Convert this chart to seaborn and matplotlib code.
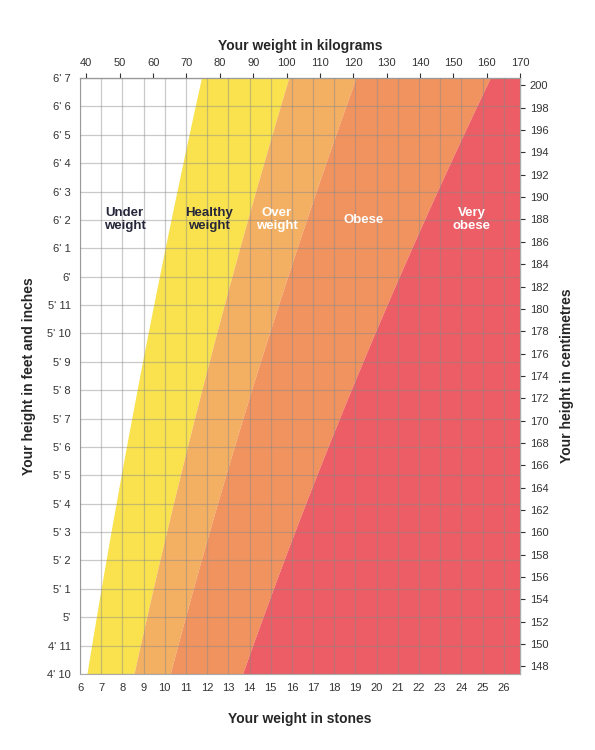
import numpy as np
import matplotlib
matplotlib.use("Agg")
import matplotlib.pyplot as plt
import seaborn as sns

# BMI band boundaries and styling
bmi_edges = [18.5, 25, 30, 40, 100]
band_colors = ["#F9E24E", "#F3B062", "#F0935F", "#EC5D65"]
band_labels = ["Under\nweight", "Healthy\nweight", "Over\nweight", "Obese", "Very\nobese"]
label_x_stones = [8.1, 12.1, 15.3, 19.4, 24.5]
label_colors = ["#26263a", "#26263a", "white", "white", "white"]

stones = list(range(6, 27))
kg_ticks = list(range(40, 171, 10))
cm_ticks = list(range(148, 201, 2))
height_in = list(range(58, 80))
height_labels = ["4' 10", "4' 11", "5'", "5' 1", "5' 2", "5' 3", "5' 4", "5' 5", "5' 6",
                 "5' 7", "5' 8", "5' 9", "5' 10", "5' 11", "6'", "6' 1", "6' 2", "6' 3",
                 "6' 4", "6' 5", "6' 6", "6' 7"]

KG_PER_ST = 6.35029
sns.set_style("white")
plt.rcParams['font.family'] = ['Liberation Sans', 'DejaVu Sans']

fig = plt.figure(figsize=(5.95, 7.5), dpi=100)
ax = fig.add_axes([0.1345, 0.1013, 0.7395, 0.7947])
xmax = 170 / KG_PER_ST
ax.set_xlim(6, xmax)
ax.set_ylim(58, 79)

h = np.linspace(58, 79, 50)
def st_at(bmi):
    return bmi * (h * 0.0254) ** 2 / KG_PER_ST

for lo, hi, c in zip(bmi_edges[:-1], bmi_edges[1:], band_colors):
    ax.fill_betweenx(h, np.clip(st_at(lo), 6, xmax), np.clip(st_at(hi), 6, xmax),
                     color=c, lw=0, zorder=1)

ax.set_xticks(stones)
ax.set_yticks(height_in)
ax.set_yticklabels(height_labels)
ax.grid(True, color="#888888", alpha=0.45, lw=0.9, zorder=2)
ax.set_axisbelow(False)
for s in ax.spines.values():
    s.set_color("#aaaaaa")
ax.tick_params(labelsize=8, colors="#333333", length=3)

for txt, x, c in zip(band_labels, label_x_stones, label_colors):
    ax.text(x, 74.0, txt, ha="center", va="center", fontsize=9.5, fontweight="bold",
            color=c, zorder=3, linespacing=1.1)

top = ax.secondary_xaxis("top", functions=(lambda s: s * KG_PER_ST, lambda k: k / KG_PER_ST))
top.set_xticks(kg_ticks)
top.tick_params(labelsize=8, colors="#333333")
top.set_xlabel("Your weight in kilograms", fontsize=10, fontweight="bold", labelpad=6)

right = ax.secondary_yaxis("right", functions=(lambda i: i * 2.54, lambda c: c / 2.54))
right.set_yticks(cm_ticks)
right.tick_params(labelsize=8, colors="#333333")
right.set_ylabel("Your height in centimetres", fontsize=10, fontweight="bold", labelpad=8)

ax.set_xlabel("Your weight in stones", fontsize=10, fontweight="bold", labelpad=14)
ax.set_ylabel("Your height in feet and inches", fontsize=10, fontweight="bold", labelpad=8)

fig.savefig("out.png", dpi=100)
